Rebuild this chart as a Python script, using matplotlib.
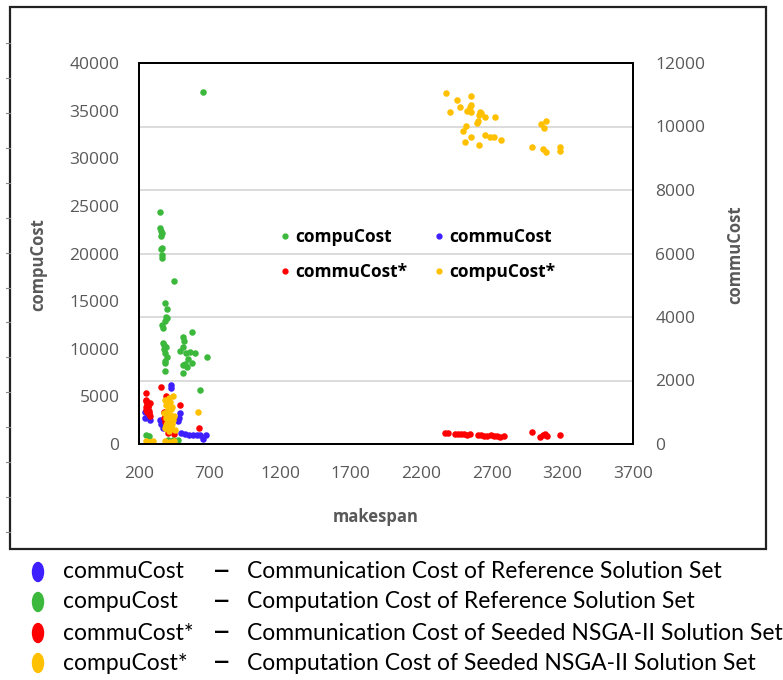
import matplotlib
matplotlib.use('Agg')
import matplotlib.pyplot as plt
from matplotlib.patches import Rectangle, Ellipse
from matplotlib.lines import Line2D

plt.rcParams['font.family'] = ['Open Sans', 'DejaVu Sans']

# compuCost (reference set), left axis
compu_x = [349, 349, 354, 361, 354, 361, 354, 361, 365, 448, 384, 396, 391, 384, 396,
           365, 368, 573, 510, 521, 372, 377, 391, 514, 377, 384, 396, 384, 384, 561,
           533, 597, 490, 680, 549, 573, 510, 538, 526, 384, 510, 632, 653,
           252, 271, 405, 441, 476]
compu_y = [24390, 22650, 22400, 22120, 21840, 20550, 20440, 19850, 19500, 17120, 14840,
           14140, 13300, 12950, 13200, 12500, 12150, 11730, 11270, 10850, 10640, 10400,
           10220, 10220, 9940, 9520, 9170, 8750, 8540, 9690, 9520, 9520, 9770, 9170,
           8890, 8470, 8300, 8120, 8400, 7700, 7420, 5670, 36960,
           977, 840, 450, 450, 450]

# commuCost (reference set), right axis
commu_x = [425, 429, 240, 276, 347, 370, 476, 488, 500, 526, 554, 583, 611, 632, 653,
           677, 245, 262, 355, 362, 480]
commu_y = [1868, 1764, 819, 765, 765, 504, 715, 977, 347, 315, 299, 293, 284, 274, 158,
           274, 1000, 880, 620, 700, 830]

# commuCost* (seeded NSGA-II), right axis
commu_s_x = [252, 250, 257, 264, 253, 271, 278, 257, 278, 358, 393, 405, 488, 377, 391,
             405, 391, 420, 434, 405, 448, 623, 248, 255, 262, 268, 250, 273, 260,
             384, 398, 412, 380,
             2368, 2389, 2439, 2460, 2481, 2503, 2524, 2545, 2602, 2623, 2644, 2666,
             2694, 2715, 2736, 2758, 2786, 2984, 3041, 3062, 3076, 3091, 3183]
commu_s_y = [1607, 1354, 1260, 1166, 1071, 977, 882, 1103, 1292, 1786, 1503, 1449, 1238,
             1008, 882, 756, 630, 536, 441, 347, 315, 504, 1400, 1320, 1200, 1050,
             1180, 940, 1010, 700, 560, 480, 820,
             337, 337, 320, 330, 300, 320, 290, 310, 290, 270, 260, 250,
             280, 240, 260, 230, 240, 370, 230, 270, 300, 250, 280]

# compuCost* (seeded NSGA-II), left axis
compu_s_x = [441, 384, 420, 391, 434, 405, 377, 420, 391, 441, 398, 427, 384, 455, 413,
             618, 250, 278, 299, 384, 420, 448, 410, 430, 395, 445, 402, 435, 390, 418,
             2375, 2451, 2550, 2474, 2403, 2550, 2545, 2526, 2550, 2616, 2611, 2625,
             2654, 2724, 2602, 2597, 2517, 2498, 2654, 2687, 2715, 2550, 2763, 2512,
             2611, 3046, 3084, 3069, 2984, 3065, 3084, 3183, 3183]
compu_s_y = [5010, 4620, 4410, 4095, 3885, 3570, 3255, 3045, 2730, 2520, 2205, 1890, 1680,
             1470, 1365, 3360, 315, 210, 315, 315, 210, 315, 4800, 3700, 3400, 2900,
             2600, 2100, 1950, 1600,
             36890, 36120, 36540, 35420, 34860, 35630, 35420, 35000, 34860, 34860, 34580,
             34720, 34370, 34300, 33950, 33740, 33390, 32830, 32480, 32270, 32270, 32270,
             31920, 31710, 31360, 33600, 33950, 33180, 31150, 31010, 30660, 31150, 30800]

x_ticks = [200, 700, 1200, 1700, 2200, 2700, 3200, 3700]
left_ticks = [0, 5000, 10000, 15000, 20000, 25000, 30000, 35000, 40000]
right_ticks = [0, 2000, 4000, 6000, 8000, 10000, 12000]

blue = '#3d1fff'
green = '#3cb93c'
red = '#ff0000'
yellow = '#ffc000'
grey = '#595959'

W, H = 783, 680
fig = plt.figure(figsize=(7.83, 6.8), dpi=100)

# outer chart frame
fig.add_artist(Rectangle((10 / W, 1 - 549 / H), 756 / W, 542 / H,
                         transform=fig.transFigure, fill=False, ec='#222222', lw=1.6))
for k in range(15):
    yy = 1 - (43 + 34.93 * k) / H
    fig.add_artist(Line2D([6 / W, 10 / W], [yy, yy], transform=fig.transFigure,
                          color='#888888', lw=0.8))

ax = fig.add_axes([139 / W, 1 - 444 / H, 494 / W, 381 / H])
ax2 = ax.twinx()
ax.set_zorder(ax2.get_zorder() + 1)
ax.patch.set_visible(False)

s = 22
ax2.scatter(commu_x, commu_y, s=s, c=blue, lw=0, label='commuCost')
ax2.scatter(commu_s_x, commu_s_y, s=s, c=red, lw=0, label='commuCost*')
ax.scatter(compu_x, compu_y, s=s, c=green, lw=0, label='compuCost')
ax.scatter(compu_s_x, compu_s_y, s=s, c=yellow, lw=0, label='compuCost*')

ax.set_xlim(200, 3700)
ax.set_ylim(0, 40000)
ax2.set_ylim(0, 12000)
ax.set_xticks(x_ticks)
ax.set_yticks(left_ticks)
ax2.set_yticks(right_ticks)

ax.grid(False)
ax2.grid(True, axis='both', color='#d9d9d9', lw=1.3)
ax2.set_axisbelow(True)

for a in (ax, ax2):
    for sp in a.spines.values():
        sp.set_color('black')
        sp.set_linewidth(1.4)
ax.tick_params(axis='both', length=0, labelsize=12.5, labelcolor=grey)
ax.tick_params(axis='y', pad=14)
ax.tick_params(axis='x', pad=16)
ax2.tick_params(axis='y', length=0, labelsize=12.5, labelcolor=grey, pad=16)

ax.set_ylabel('compuCost', fontsize=12, fontweight='bold', color=grey)
ax.yaxis.set_label_coords(-0.186, 0.47)
ax2.set_ylabel('commuCost', fontsize=12, fontweight='bold', color=grey)
ax2.yaxis.set_label_coords(1.188, 0.496)
ax.set_xlabel('makespan', fontsize=12, fontweight='bold', color=grey)
ax.xaxis.set_label_coords(0.48, -0.168)

# inner legend
h_green = Line2D([], [], ls='', marker='o', ms=3.5, color=green)
h_red = Line2D([], [], ls='', marker='o', ms=3.5, color=red)
h_blue = Line2D([], [], ls='', marker='o', ms=3.5, color=blue)
h_yellow = Line2D([], [], ls='', marker='o', ms=3.5, color=yellow)
leg = ax.legend([h_green, h_red, h_blue, h_yellow],
                ['compuCost', 'commuCost*', 'commuCost', 'compuCost*'],
                ncol=2, frameon=False, loc='upper left', bbox_to_anchor=(0.247, 0.608),
                prop={'family': 'Open Sans', 'weight': 'bold', 'size': 12.5},
                handletextpad=0.1, handlelength=1.0, columnspacing=1.3, labelspacing=1.0)

# bottom key
rows = [('commuCost', blue, 'Communication Cost of Reference Solution Set'),
        ('compuCost', green, 'Computation Cost of Reference Solution Set'),
        ('commuCost*', red, 'Communication Cost of Seeded NSGA-II Solution Set'),
        ('compuCost*', yellow, 'Computation Cost of Seeded NSGA-II Solution Set')]
row_y = [572, 602, 633, 663]
for (name, col, desc), py in zip(rows, row_y):
    yy = 1 - py / H
    fig.add_artist(Ellipse((38 / W, yy), 11 / W, 19 / H, transform=fig.transFigure,
                           color=col))
    fig.text(63 / W, yy, name, fontsize=16.5, va='center', ha='left', family='Lato')
    fig.text(222 / W, yy, '–', fontsize=24, va='center', ha='center', family='Lato')
    fig.text(247 / W, yy, desc, fontsize=16.5, va='center', ha='left', family='Lato')

fig.savefig('out.png', dpi=100)
